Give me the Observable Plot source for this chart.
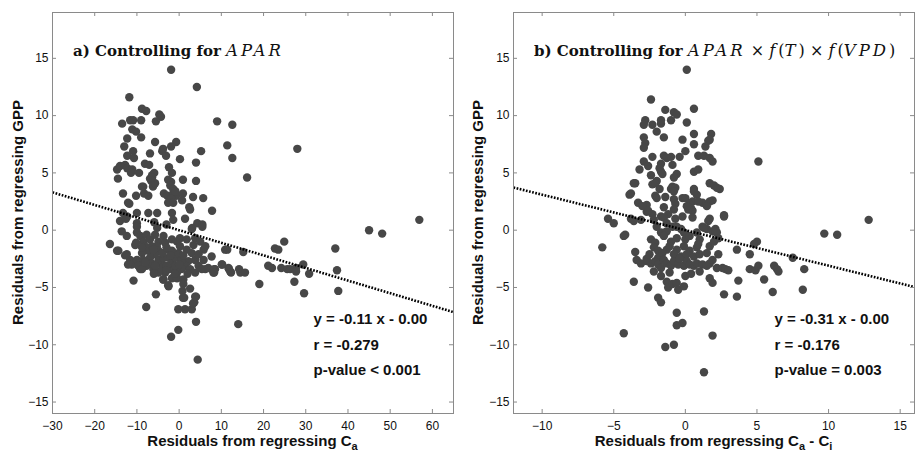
<!DOCTYPE html>
<html><head><meta charset="utf-8">
<script src="https://cdn.jsdelivr.net/npm/d3@7"></script>
<script src="https://cdn.jsdelivr.net/npm/@observablehq/plot@0.6"></script>
<style>
html,body{margin:0;padding:0;background:#fff;}
#wrap{position:relative;width:915px;height:451px;overflow:hidden;}
.panel{position:absolute;top:0;}
.panel svg{display:block;}
</style></head><body><div id="wrap"></div>
<script>
// ---------- data ----------
const pointsA = [
[-1.9,14.0],[4.2,12.5],[-11.8,11.6],[-8.8,10.6],[-7.8,10.4],[-4.7,10.1],[-4.3,9.9],[-13.5,9.3],[-11.6,9.6],[-10.9,9.6],[-9.0,9.6],[-5.5,9.5],[9.0,9.5],[12.6,9.2],[-11.1,8.8],[-10.2,8.6],[-12.3,8.0],[-9.0,8.1],[-5.7,7.7],[-0.7,7.7],[-1.9,7.3],[-13.0,7.3],[-10.9,6.9],[-6.9,6.7],[-4.0,6.9],[-3.1,6.5],[-12.3,6.5],[-10.7,6.3],[0.2,6.2],[5.2,6.9],[11.4,7.4],[12.6,6.3],[28.0,7.1],[4.0,5.9],[-8.1,5.8],[-7.1,5.7],[-14.7,5.3],[-14.0,5.6],[-12.8,5.7],[-12.3,5.4],[-14.5,4.5],[-11.1,5.3],[-11.4,5.0],[-9.5,5.0],[-6.4,4.8],[-5.9,5.0],[-6.9,4.5],[-2.4,5.5],[-1.7,5.0],[-2.6,4.4],[-1.9,4.2],[0.9,4.4],[4.0,4.3],[16.1,4.6],[-6.2,3.8],[-8.5,3.8],[-13.3,3.2],[-10.2,3.0],[-8.3,3.2],[-7.3,3.0],[-3.6,3.2],[-2.8,3.0],[-1.4,3.2],[-0.7,3.0],[-1.9,2.8],[0.9,3.2],[3.3,2.9],[5.7,2.8],[-12.1,2.4],[-11.8,2.3],[-2.6,2.4],[-1.4,2.4],[0.7,2.6],[2.4,2.0],[2.6,1.8],[7.8,1.7],[-13.3,1.5],[-12.3,1.2],[-10.0,1.5],[-7.3,1.5],[-5.2,1.5],[-1.7,1.5],[-14.0,0.8],[-12.6,1.0],[-10.0,0.6],[1.4,1.0],[4.3,0.6],[5.5,0.5],[56.9,0.9],
[-3.8,7.1],[-2.1,3.9],[-1.4,3.6],[-0.9,3.4],[-8.8,3.8],[-6.6,4.3],[-5.7,4.1],[-6.4,4.6],[-10.0,0.3],[-5.2,0.2],[3.1,0.2],[5.5,0.3],[-5.9,0.7],[-3.0,0.5],[-1.4,0.9],
[-13.6,-0.1],[-12.4,-0.5],[-16.4,-1.2],[-14.4,-1.8],[-10.4,-1.3],[-10.0,-0.2],[-9.2,-0.5],[-8.5,-1.0],[-7.7,-0.4],[-6.9,-0.8],[-5.7,-0.4],[-4.9,-1.0],[-3.7,-0.5],[-3.3,-1.1],[-5.3,-1.4],[-6.5,-1.4],[-7.3,-1.8],[-4.9,-1.8],[-2.9,-1.7],[-1.7,-0.8],[-0.5,-1.0],[0.2,-0.7],[1.8,-0.8],[3.0,0.1],[3.8,-0.7],[3.4,-1.3],[5.0,-1.0],[5.8,-1.7],[7.7,-2.3],[10.9,-1.7],[10.1,-3.0],[11.7,-3.3],[12.1,-3.6],[8.5,-3.4],[8.1,-3.7],[6.2,-3.4],[5.8,-2.6],[4.6,-3.1],[3.8,-2.6],[2.2,-2.7],[1.4,-3.1],[0.6,-3.4],[-0.5,-3.7],[-1.7,-3.4],[-3.3,-3.7],[-4.9,-3.7],[-6.1,-3.4],[-4.1,-2.9],[-4.9,-2.6],[-5.7,-2.1],[-6.9,-2.4],[-7.7,-3.1],[-9.2,-3.4],[-12.4,-2.1],[-11.6,-2.6],[-11.2,-3.0],[-10.0,-2.6],[-10.8,-4.4],[-5.5,-5.6],[-7.8,-6.7],[-2.5,-4.9],[-3.7,-4.3],[-1.7,-4.2],[-0.5,-4.2],[1.0,-4.3],[1.0,-4.7],[0.8,-5.3],[1.2,-5.9],[2.6,-5.1],[3.8,-5.8],[3.6,-6.3],[3.0,-6.9],[1.4,-6.9],[-0.2,-6.9],[4.0,-8.0],[-0.2,-8.7],[-1.9,-9.3],[4.4,-11.3],
[-8.1,-1.4],[-8.8,-2.0],[-9.6,-2.9],[-8.5,-2.6],[-2.5,-2.4],[-1.7,-2.9],[-0.9,-2.4],[-0.2,-2.0],[0.6,-2.6],[-1.7,-1.8],[0.2,-1.4],[1.8,-1.7],[3.0,-2.0],[4.6,-2.1],[2.6,-3.4],[3.8,-3.7],[5.4,-3.4],[6.9,-3.3],[-2.5,-3.4],[-4.1,-3.4],[-6.5,-2.9],[-0.9,-3.1],[-2.9,-3.1],[-5.7,-3.1],[-3.7,-2.4],[-6.1,-1.7],[-8.8,-1.5],
[-9.7,-3.1],[-8.8,-3.4],[8.3,-3.4],[8.3,-3.7],[10.2,-3.0],[11.4,-1.7],[11.8,-3.4],[12.3,-3.7],[14.0,-8.2],[14.2,-3.4],[14.5,-3.7],[15.6,-3.7],[15.2,-1.9],[19.0,-4.7],[21.1,-3.1],[22.0,-3.3],[22.7,-1.6],[23.5,-1.7],[24.9,-1.0],[24.2,-3.3],[25.6,-3.4],[26.3,-3.4],[27.7,-3.3],[27.3,-4.5],[27.7,-3.6],[29.4,-3.0],[29.6,-5.5],[30.8,-3.8],[37.0,-1.6],[37.4,-3.5],[37.7,-5.3],[45.0,0.0],[48.1,-0.3],
[0.9,-5.9],[-2.6,-4.8],[-3.8,-4.3],[6.2,-1.4],[3.3,-6.4],[4.0,-5.8],[-14.7,-1.8],[-12.8,-2.2],[-12.1,-3.0],[-10.2,-1.1],
[-4.0,-2.0],[-3.0,-3.5],[-2.0,-2.2],[-1.0,-3.8],[0.0,-3.0],[1.0,-2.2],[2.0,-3.8],[-6.0,-3.8],[-8.0,-2.8],[-3.0,-1.5]
];

const pointsB = [
[0.1,14.0],[-2.4,11.4],[-1.4,10.5],[-0.8,10.3],[-0.6,10.1],[0.6,10.6],[-2.8,9.6],[-2.9,9.2],[-2.3,9.2],[-1.7,9.3],[-1.7,9.6],[-1.0,9.6],[0.1,9.4],[0.6,8.4],[1.8,8.4],[-2.0,8.6],[-2.9,8.1],[-2.8,7.6],[-2.9,7.2],[-1.5,8.1],[-0.2,7.9],[0.6,7.5],[1.4,7.3],[1.6,7.8],[1.7,7.9],[0.0,6.9],[0.9,6.5],[1.3,6.5],[1.9,6.0],[1.7,6.3],[5.1,6.0],[-2.9,6.0],[-2.6,5.6],[-2.3,6.4],[-1.5,6.5],[-1.3,6.3],[-1.0,6.4],[-0.4,6.4],[-3.2,5.3],[-1.7,5.8],[-1.8,5.4],[-1.7,5.1],[-1.6,4.9],[-0.9,5.7],[-0.6,4.9],[-0.8,4.6],[0.6,5.1],[0.9,5.3],[-2.4,4.8],[-2.0,4.3],[-2.3,4.0],[-2.1,4.1],[-3.5,4.1],[-0.9,3.8],[-1.0,3.6],[-0.7,3.7],[-0.8,3.4],[-1.8,3.6],[1.7,4.1],[2.0,3.9],[2.4,3.6],[0.6,3.6],[0.8,3.1],[-3.9,3.1],[-2.1,3.0],[-2.0,2.8],[-1.4,2.9],[-0.2,2.8],[0.0,2.8],[0.5,2.5],[0.3,2.3],[-0.8,2.7],[-0.7,2.3],[1.2,2.4],[1.9,2.6],[-3.3,2.4],[-2.7,2.2],[-1.5,2.0],[-0.8,1.8],[0.4,1.9],[0.5,1.7],[-2.7,1.6],[-2.3,1.4],[-1.2,1.4],[-0.7,1.0],[-1.7,1.2],[2.7,1.3],[-3.8,1.0],[-3.1,0.9],[-5.4,1.0],[-5.0,0.6],[1.7,1.0],[1.2,0.3],[12.8,0.9],
[2.2,3.7],[1.7,2.5],[1.5,2.1],[0.6,3.4],[0.9,2.5],[0.2,1.8],[0.5,1.1],[0.1,2.1],[-0.2,1.2],[1.6,0.8],[2.1,0.1],[1.9,-0.1],[2.2,-0.2],[2.7,1.2],[-3.8,3.2],[-3.6,4.1],[-4.2,-0.4],[-3.0,2.1],[-3.6,0.8],[-2.6,1.7],[-2.2,0.9],[-1.5,1.1],[-1.3,0.6],[-0.9,0.3],[-0.6,0.3],[-0.3,0.1],[-1.7,-0.2],[-1.4,-0.2],
[-4.3,-0.5],[-5.8,-1.5],[-3.5,-1.9],[-3.4,-2.6],[-3.6,-4.5],[-2.6,-5.0],[-1.9,-5.9],[-1.7,-6.3],[-2.4,-0.8],[-2.1,-1.1],[-2.2,-1.5],[-1.9,-1.8],[-1.9,-2.4],[-2.0,0.3],[-1.3,-0.1],[-1.5,-0.5],[-1.0,-1.0],[-0.6,-0.7],[-0.1,-0.2],[0.0,-0.8],[0.3,-0.5],[0.8,-0.2],[1.0,-0.8],[1.5,0.1],[2.1,-0.1],[1.3,0.2],[1.7,-1.4],[2.0,-1.0],[0.8,-1.5],[0.3,-1.8],[-0.1,-1.4],[-0.6,-1.7],[-1.3,-1.7],[-1.6,-2.0],[-0.8,-2.1],[-0.3,-2.3],[0.1,-2.1],[0.6,-2.3],[1.0,-2.1],[1.5,-2.0],[2.3,-2.1],
[-2.7,-2.7],[-2.4,-2.9],[-2.1,-2.7],[-1.9,-3.0],[-1.7,-3.3],[-1.5,-2.6],[-1.3,-2.9],[-1.0,-3.1],[-0.8,-2.7],[-0.5,-3.0],[-0.1,-3.1],[0.1,-2.7],[0.3,-3.0],[0.6,-3.1],[0.8,-2.9],[1.2,-3.0],[1.5,-3.1],[1.7,-2.9],[2.2,-3.3],[2.6,-3.3],[2.8,-3.4],[-1.7,-4.0],[-1.3,-4.5],[-1.2,-5.0],[-0.9,-4.7],[-0.6,-4.6],[-0.5,-5.2],[-0.1,-4.9],[0.0,-4.0],[1.7,-4.2],[1.9,-4.6],[2.7,-5.6],[-0.6,-7.2],[1.3,-7.1],[-0.6,-8.3],[-0.2,-8.1],[1.9,-9.2],[-4.3,-9.0],[-1.4,-10.2],[-0.8,-10.0],[1.3,-12.4],
[3.7,-4.4],[3.6,-5.8],[3.6,-1.7],[4.5,-2.1],[4.5,-3.4],[4.9,-3.5],[5.1,-3.1],[5.0,-1.0],[4.8,-1.2],[5.5,-4.3],[6.1,-5.4],[6.2,-3.1],[6.4,-3.4],[6.5,-3.6],[7.5,-2.4],[8.2,-5.2],[8.3,-3.4],[9.7,-0.3],[10.6,-0.4],[3.0,-3.5],[-3.1,-2.9],[-2.7,-2.5],
[-2.2,-3.6],[-1.1,-3.7],[0.4,-3.8],[1.0,-3.6],[-0.4,-2.5],[0.9,-1.2],[-1.1,-1.4],[-2.5,-2.1],[1.9,-2.6],[2.3,-0.7]
];

const xDomains = [[-30, 65], [-12, 16]];
const xTicksA = [-30, -20, -10, 0, 10, 20, 30, 40, 50, 60];
const xTicksB = [-10, -5, 0, 5, 10, 15];
const yDomain = [-16, 19];
const yTicks = [-15, -10, -5, 0, 5, 10, 15];
const slopes = [-0.11, -0.31];
const intercepts = [0.0, 0.0];
const statsA = ["y = -0.11 x - 0.00", "r = -0.279", "p-value < 0.001"];
const statsB = ["y = -0.31 x - 0.00", "r = -0.176", "p-value = 0.003"];
// title pieces: [text, style]  b = bold, i = math italic, n = upright math
const NB = "\u00a0";
const titleA = [["a) Controlling for" + NB, "b"], ["APAR", "i"]];
const titleB = [["b) Controlling for" + NB, "b"], ["APAR", "i"], [NB + "×" + NB, "n"], ["f", "i"], ["(", "n"], ["T", "i"], [")", "n"], [NB + "×" + NB, "n"], ["f", "i"], ["(", "n"], ["VPD", "i"], [")", "n"]];
// axis label pieces: [text, isSubscript]
const xLabelA = [["Residuals from regressing C", false], ["a", true]];
const xLabelB = [["Residuals from regressing C", false], ["a", true], [NB + "-" + NB + "C", false], ["i", true]];
const yLabel = "Residuals from regressing GPP";

// ---------- drawing ----------
const H = 451, MT = 12, MB = 38;
const SANS = "'Liberation Sans', Arial, Helvetica, sans-serif";
const SERIF = "'DejaVu Serif', serif";
const TICK_PX = 4;

function panel(cfg) {
  const {pts, xDomain, xTicks, slope, intercept, stats, title, xLabel, width, ml, mr, left, ylx} = cfg;
  const fit = xDomain.map(x => ({x, y: slope * x + intercept}));
  // inward tick lengths expressed in data units of each scale
  const ky = TICK_PX * (yDomain[1] - yDomain[0]) / (H - MT - MB);
  const kx = TICK_PX * (xDomain[1] - xDomain[0]) / (width - ml - mr);
  const tickStroke = "#8a8a8a";
  const svg = Plot.plot({
    width, height: H, marginLeft: ml, marginRight: mr, marginTop: MT, marginBottom: MB,
    style: {fontFamily: SANS, fontSize: "12px", background: "white", color: "#111", overflow: "visible"},
    x: {domain: xDomain}, y: {domain: yDomain},
    marks: [
      Plot.dot(pts, {x: d => d[0], y: d => d[1], r: 4.2, fill: "#474747"}),
      Plot.line(fit, {x: "x", y: "y", stroke: "#000", strokeWidth: 2.6, strokeDasharray: "1.7,1.5", strokeLinecap: "butt"}),
      Plot.ruleX(xTicks, {x: d => d, y1: yDomain[0], y2: yDomain[0] + ky, stroke: tickStroke}),
      Plot.ruleX(xTicks, {x: d => d, y1: yDomain[1], y2: yDomain[1] - ky, stroke: tickStroke}),
      Plot.ruleY(yTicks, {y: d => d, x1: xDomain[0], x2: xDomain[0] + kx, stroke: tickStroke}),
      Plot.ruleY(yTicks, {y: d => d, x1: xDomain[1], x2: xDomain[1] - kx, stroke: tickStroke}),
      Plot.frame({stroke: tickStroke}),
      Plot.axisX({ticks: xTicks, anchor: "bottom", tickSize: 0, tickPadding: 8, label: null, fill: "#111"}),
      Plot.axisY({ticks: yTicks, anchor: "left", tickSize: 0, tickPadding: 4, label: null, fill: "#111"}),
      Plot.text([stats.join("\n")], {frameAnchor: "top-left", dx: 261, dy: 293, lineAnchor: "top", lineHeight: 1.72,
        textAnchor: "start", fontWeight: "bold", fontSize: 15, fill: "#111"})
    ]
  });
  const s = d3.select(svg);
  // title with math italic pieces
  const t = s.append("text").attr("x", ml + 21).attr("y", 56).attr("fill", "#111")
    .attr("text-anchor", "start").attr("font-family", SERIF).attr("font-size", 15);
  for (const [txt, st] of title) {
    const sp = t.append("tspan").text(txt);
    if (st === "b") sp.attr("font-weight", "bold");
    if (st === "i") sp.attr("font-style", "italic").attr("font-size", 16.5).attr("letter-spacing", 3);
    if (st === "n") sp.attr("font-size", 16);
  }
  // x label with subscripts
  const cx = ml + (width - ml - mr) / 2;
  const xl = s.append("text").attr("x", cx).attr("y", 446).attr("text-anchor", "middle")
    .attr("font-family", SANS).attr("font-weight", "bold").attr("font-size", 15).attr("fill", "#111");
  let sub = false;
  for (const [txt, isSub] of xLabel) {
    const sp = xl.append("tspan").text(txt);
    if (isSub && !sub) sp.attr("dy", 4).attr("font-size", 11);
    if (isSub && sub) sp.attr("font-size", 11);
    if (!isSub && sub) sp.attr("dy", -4);
    sub = isSub;
  }
  // y label
  s.append("text").attr("transform", `translate(${ylx},${MT + (H - MT - MB) / 2}) rotate(-90)`)
    .attr("text-anchor", "middle").attr("font-family", SANS).attr("font-weight", "bold")
    .attr("font-size", 15).attr("fill", "#111").text(yLabel);
  const div = document.createElement("div");
  div.className = "panel";
  div.style.left = left + "px";
  div.appendChild(svg);
  document.getElementById("wrap").appendChild(div);
}

panel({pts: pointsA, xDomain: xDomains[0], xTicks: xTicksA, slope: slopes[0], intercept: intercepts[0],
  stats: statsA, title: titleA, xLabel: xLabelA, width: 457, ml: 52, mr: 4, left: 0, ylx: 23});
panel({pts: pointsB, xDomain: xDomains[1], xTicks: xTicksB, slope: slopes[1], intercept: intercepts[1],
  stats: statsB, title: titleB, xLabel: xLabelB, width: 458, ml: 56, mr: 1, left: 457, ylx: 26});
</script></body></html>
